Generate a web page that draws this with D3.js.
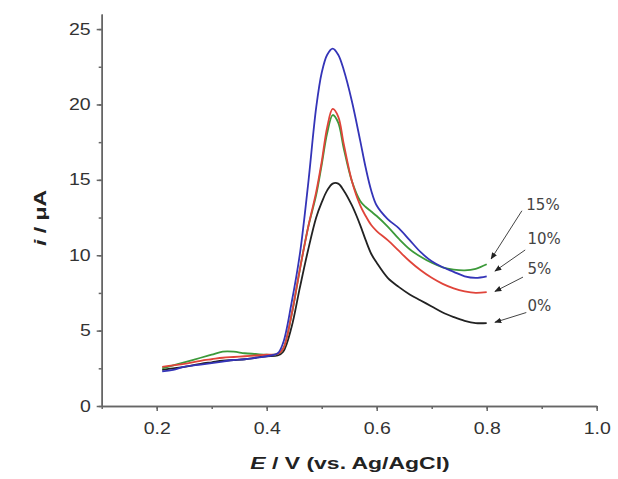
<!DOCTYPE html>
<html><head><meta charset="utf-8">
<script src="https://cdn.jsdelivr.net/npm/d3@7"></script>
<style>body{margin:0;background:#fff}svg{display:block}</style>
</head><body><svg id="c" width="618" height="479"></svg>
<script>
// ---- data ----
const potential = [0.21,0.23,0.25,0.28,0.30,0.32,0.34,0.36,0.38,0.40,0.42,0.43,0.445,0.46,0.475,0.49,0.50,0.51,0.52,0.53,0.54,0.555,0.57,0.58,0.59,0.60,0.62,0.64,0.66,0.68,0.70,0.72,0.74,0.76,0.78,0.80];
const current0  = [2.4,2.5,2.6,2.8,2.9,3.0,3.05,3.1,3.2,3.3,3.35,3.6,5.2,7.8,10.3,12.5,13.5,14.3,14.75,14.75,14.3,13.3,12.0,11.0,10.1,9.5,8.5,7.9,7.4,7.0,6.6,6.2,5.9,5.65,5.5,5.5];
const current5  = [2.6,2.7,2.8,3.0,3.1,3.2,3.25,3.3,3.35,3.4,3.45,3.8,6.0,9.0,11.8,14.2,16.2,18.5,19.7,19.2,17.4,14.9,13.3,12.6,12.0,11.6,11.0,10.3,9.6,9.0,8.5,8.1,7.8,7.6,7.5,7.55];
const current10 = [2.3,2.4,2.6,2.75,2.85,2.95,3.05,3.1,3.2,3.3,3.5,4.2,6.8,10.0,14.6,19.8,22.1,23.3,23.7,23.3,22.3,20.2,17.6,15.8,14.3,13.3,12.4,11.8,11.0,10.2,9.6,9.2,8.9,8.6,8.5,8.6];
const current15 = [2.5,2.7,2.9,3.2,3.4,3.6,3.6,3.5,3.45,3.4,3.45,3.8,6.0,9.0,11.8,14.0,16.0,18.1,19.3,18.8,17.1,14.9,13.6,13.2,12.9,12.6,11.9,11.1,10.4,9.9,9.5,9.2,9.05,9.0,9.1,9.4];
const seriesLabels = ["0%","5%","10%","15%"];
const xTickValues = [0.2,0.4,0.6,0.8,1.0];
const yTickValues = [0,5,10,15,20,25];

// ---- styles / layout ----
const seriesColors = ["#222222","#e0443a","#3434b8","#3c9a3a"];
const drawOrder = [0,3,1,2];
// annotation layout in data units: [textE, textI, lineStartE, lineStartI, tipE, tipI]
const annot = [
  [0.874,6.3, 0.872,6.2, 0.815,5.55],
  [0.874,8.75,0.866,8.55,0.815,7.6],
  [0.874,10.75,0.870,10.35,0.815,8.95],
  [0.872,13.0,0.864,12.95,0.808,9.75]
];

const svg = d3.select("#c");
svg.append("rect").attr("width",618).attr("height",479).attr("fill","#fff");
const x = d3.scaleLinear().domain([0.1,1.0]).range([101.7,596.7]);
const y = d3.scaleLinear().domain([0,26]).range([406,14]);
const axisColor = "#666";
const font = "'Liberation Sans', Arial, sans-serif";

// minor ticks
const gx = svg.append("g").attr("transform","translate(0,406)");
gx.call(d3.axisBottom(x).tickValues(d3.range(1,11).map(d=>d/10)).tickSize(3).tickSizeOuter(0).tickFormat(""));
const gx2 = svg.append("g").attr("transform","translate(0,406)");
gx2.call(d3.axisBottom(x).tickValues(xTickValues).tickSize(5).tickSizeOuter(0).tickFormat(d3.format(".1f")));
[gx,gx2].forEach(g=>{g.select(".domain").attr("stroke",axisColor).attr("stroke-width",1.5);
  g.selectAll(".tick line").attr("stroke",axisColor).attr("stroke-width",1.5);});
gx2.selectAll("text").attr("y",17).attr("dy","0.71em").attr("fill","#333")
  .style("font-family",font).style("font-size","16px").attr("transform","scale(1.22,1)");

const gy = svg.append("g").attr("transform","translate(101.7,0)");
gy.call(d3.axisLeft(y).tickValues(d3.range(0,26,2.5)).tickSize(3).tickSizeOuter(0).tickFormat(""));
const gy2 = svg.append("g").attr("transform","translate(101.7,0)");
gy2.call(d3.axisLeft(y).tickValues(yTickValues).tickSize(5).tickSizeOuter(0));
[gy,gy2].forEach(g=>{g.select(".domain").attr("stroke",axisColor).attr("stroke-width",1.5);
  g.selectAll(".tick line").attr("stroke",axisColor).attr("stroke-width",1.5);});
gy2.selectAll("text").attr("x",-9).attr("fill","#333")
  .style("font-family",font).style("font-size","16px").attr("transform","scale(1.22,1)");

// curves
const series = [current0,current5,current10,current15];
const line = d3.line().x((d,i)=>x(potential[i])).y(d=>y(d)).curve(d3.curveCatmullRom.alpha(0.5));
drawOrder.forEach(k=>{
  svg.append("path").datum(series[k]).attr("d",line).attr("fill","none")
    .attr("stroke",seriesColors[k]).attr("stroke-width",1.8).attr("stroke-linejoin","round");
});

// annotations
const defs = svg.append("defs");
defs.append("marker").attr("id","ah").attr("viewBox","0 0 10 10").attr("refX",9).attr("refY",5)
  .attr("markerWidth",7).attr("markerHeight",7).attr("orient","auto")
  .append("path").attr("d","M0,1 L10,5 L0,9 Z").attr("fill","#222");
annot.forEach((a,k)=>{
  svg.append("line").attr("x1",x(a[2])).attr("y1",y(a[3])).attr("x2",x(a[4])).attr("y2",y(a[5]))
    .attr("stroke","#444").attr("stroke-width",1).attr("marker-end","url(#ah)");
  svg.append("text").attr("x",x(a[0])).attr("y",y(a[1])).text(seriesLabels[k])
    .attr("fill","#444").style("font-family","'DejaVu Sans', sans-serif").style("font-size","15px");
});

// axis titles
const xt = svg.append("text").attr("transform","translate(350,469) scale(1.35,1)")
  .attr("text-anchor","middle").attr("fill","#222")
  .style("font-family",font).style("font-size","17px").style("font-weight","bold");
xt.append("tspan").style("font-style","italic").text("E");
xt.append("tspan").text(" / V (vs. Ag/AgCl)");
const yt = svg.append("text").attr("transform","translate(46,218) rotate(-90) scale(1.35,1)")
  .attr("text-anchor","middle").attr("fill","#222")
  .style("font-family",font).style("font-size","17px").style("font-weight","bold");
yt.append("tspan").style("font-style","italic").text("i");
yt.append("tspan").text(" / μA");
</script></body></html>
